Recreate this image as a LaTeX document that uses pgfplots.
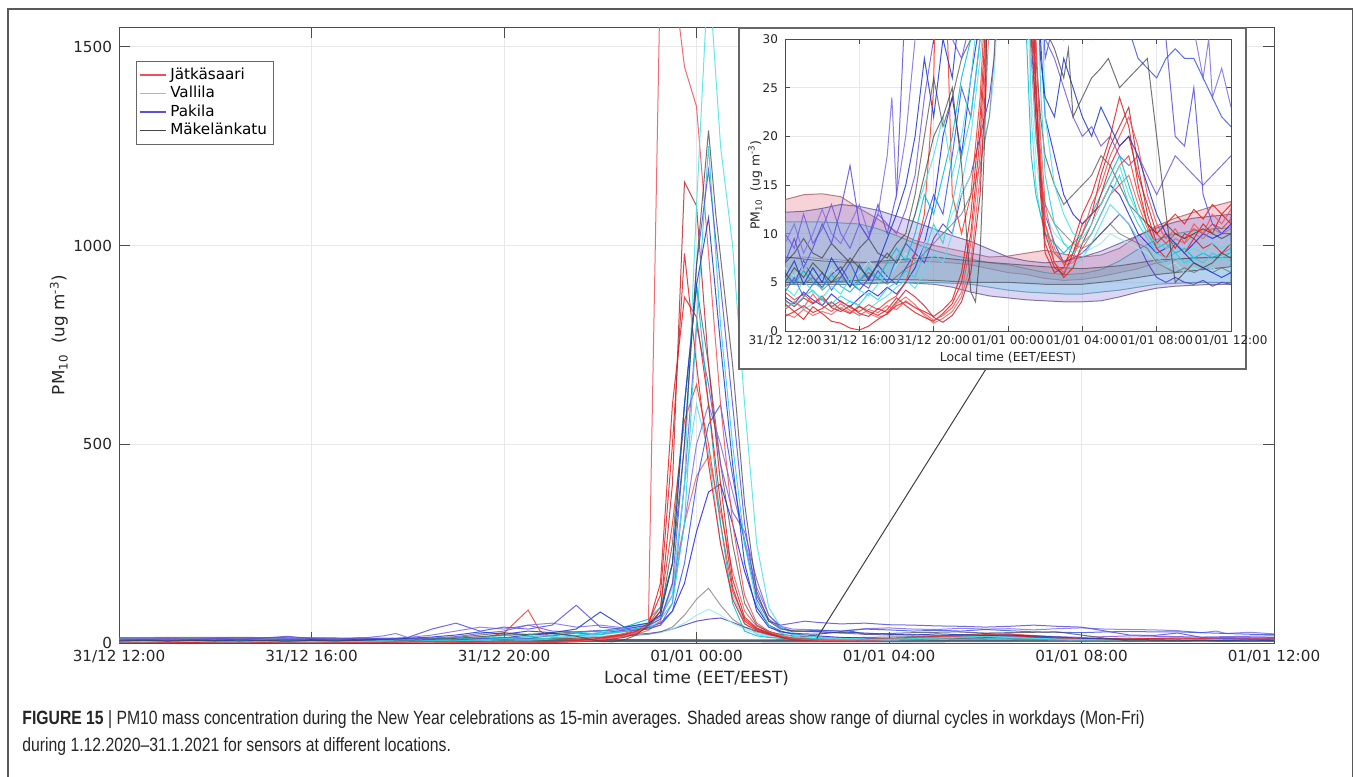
\documentclass[border=0pt]{standalone}
\usepackage{fontspec}
\setmainfont{DejaVu Sans}
\newfontfamily\capfont[FakeStretch=0.82]{Liberation Sans}
\usepackage{pgfplots}
\usepackage{pgfplotstable}
\pgfplotsset{compat=1.18}

\definecolor{txt}{RGB}{38,38,38}
\definecolor{Rpink}{RGB}{240,80,90}
\definecolor{Rred}{RGB}{230,30,30}
\definecolor{Rdark}{RGB}{190,40,50}
\definecolor{Rora}{RGB}{245,60,40}
\definecolor{Rlight}{RGB}{235,100,100}
\definecolor{Ca}{RGB}{70,230,230}
\definecolor{Cb}{RGB}{40,210,220}
\definecolor{Cc}{RGB}{0,190,210}
\definecolor{Cd}{RGB}{90,220,240}
\definecolor{Ce}{RGB}{150,235,235}
\definecolor{Pa}{RGB}{90,80,220}
\definecolor{Pb}{RGB}{40,40,230}
\definecolor{Pc}{RGB}{120,90,220}
\definecolor{Pd}{RGB}{60,90,230}
\definecolor{Pe}{RGB}{80,60,200}
\definecolor{Pf}{RGB}{30,60,200}
\definecolor{Pg}{RGB}{130,110,230}
\definecolor{Ka}{RGB}{40,40,40}
\definecolor{Kb}{RGB}{70,70,70}
\definecolor{Kc}{RGB}{95,95,95}
\definecolor{bandR}{RGB}{225,110,130}
\definecolor{bandP}{RGB}{140,120,220}
\definecolor{bandC}{RGB}{100,200,235}
\definecolor{bandK}{RGB}{130,130,150}

% hours after 31/12 12:00, PM10 in ug/m3
\pgfplotstableread[row sep=\\]{x y\\
0 2.2\\ 0.5 3.0\\ 1 2.4\\ 1.5 3.8\\ 2 2.6\\ 2.5 2.0\\ 3 2.8\\ 3.5 2.1\\ 4 1.6\\ 4.5 2.2\\ 5 1.9\\ 5.5 2.6\\ 6 2.2\\ 6.5 3.1\\ 7 2.4\\ 7.5 1.8\\ 8 1.1\\ 8.5 1.6\\ 9 2.4\\ 9.5 4\\ 10 9\\ 10.5 18\\ 10.75 26\\ 11 45\\ 11.25 1700\\ 11.5 1700\\ 11.75 1450\\ 12 1350\\ 12.25 980\\ 12.5 600\\ 12.75 300\\ 13 120\\ 13.25 50\\ 13.5 30\\ 13.75 18\\ 14 11\\ 14.5 7\\ 15 6\\ 15.5 7.5\\ 16 10\\ 16.5 13\\ 17 15\\ 17.5 18\\ 18 20\\ 18.5 22\\ 19 19\\ 19.5 14\\ 20 11\\ 20.5 9.5\\ 21 10.5\\ 21.5 9\\ 22 11\\ 22.5 10\\ 23 12\\ 23.5 11\\ 24 12.5\\
}\Ra
\pgfplotstableread[row sep=\\]{x y\\
0 3.2\\ 0.5 2.5\\ 1 3.4\\ 1.5 2.8\\ 2 3.6\\ 2.5 2.4\\ 3 2.0\\ 3.5 2.6\\ 4 1.8\\ 4.5 1.5\\ 5 2.3\\ 5.5 1.9\\ 6 3.0\\ 6.5 4.2\\ 7 3.5\\ 7.5 2.6\\ 8 1.4\\ 8.5 0.9\\ 9 1.6\\ 9.5 3\\ 10 6\\ 10.5 14\\ 10.75 24\\ 11 40\\ 11.25 80\\ 11.5 400\\ 11.75 1160\\ 12 1100\\ 12.25 700\\ 12.5 400\\ 12.75 160\\ 13 65\\ 13.25 38\\ 13.5 26\\ 13.75 15\\ 14 9\\ 14.5 6.5\\ 15 5.8\\ 15.5 8\\ 16 11\\ 16.5 12\\ 17 16\\ 17.5 19\\ 18 21\\ 18.5 23\\ 19 17\\ 19.5 12\\ 20 9\\ 20.5 10\\ 21 8.5\\ 21.5 10\\ 22 9.5\\ 22.5 11\\ 23 10\\ 23.5 12\\ 24 11\\
}\Rb
\pgfplotstableread[row sep=\\]{x y\\
0 1.5\\ 0.5 2.0\\ 1 1.2\\ 1.5 2.5\\ 2 1.8\\ 2.5 1.0\\ 3 0.8\\ 3.5 0.3\\ 4 0.1\\ 4.5 0.5\\ 5 1.2\\ 5.5 1.8\\ 6 2.6\\ 6.5 3.0\\ 7 2.4\\ 7.5 2.0\\ 8 1.5\\ 8.5 2.2\\ 9 3.2\\ 9.5 6\\ 10 12\\ 10.5 22\\ 10.75 30\\ 11 50\\ 11.25 120\\ 11.5 500\\ 11.75 980\\ 12 700\\ 12.25 450\\ 12.5 250\\ 12.75 110\\ 13 48\\ 13.25 32\\ 13.5 22\\ 13.75 14\\ 14 8\\ 14.5 6\\ 15 6.5\\ 15.5 9\\ 16 12\\ 16.5 14\\ 17 17\\ 17.5 20\\ 18 24\\ 18.5 21\\ 19 15\\ 19.5 11\\ 20 8.5\\ 20.5 7.5\\ 21 9\\ 21.5 8\\ 22 9.5\\ 22.5 8.5\\ 23 9\\ 23.5 8\\ 24 9\\
}\Rc
\pgfplotstableread[row sep=\\]{x y\\
0 2.8\\ 0.5 2.0\\ 1 2.6\\ 1.5 1.9\\ 2 2.3\\ 2.5 3.0\\ 3 2.2\\ 3.5 1.8\\ 4 2.5\\ 4.5 2.0\\ 5 1.6\\ 5.5 2.2\\ 6 3.4\\ 6.5 2.6\\ 7 1.9\\ 7.5 1.4\\ 8 1.0\\ 8.5 1.8\\ 9 2.8\\ 9.5 5\\ 10 10\\ 10.5 20\\ 10.75 28\\ 11 45\\ 11.25 150\\ 11.5 600\\ 11.75 870\\ 12 820\\ 12.25 600\\ 12.5 350\\ 12.75 140\\ 13 55\\ 13.25 34\\ 13.5 24\\ 13.75 16\\ 14 10\\ 14.5 7\\ 15 5.5\\ 15.5 6.5\\ 16 9\\ 16.5 11\\ 17 14\\ 17.5 17\\ 18 19\\ 18.5 20\\ 19 16\\ 19.5 13\\ 20 10\\ 20.5 11\\ 21 12\\ 21.5 11\\ 22 12.5\\ 22.5 11.5\\ 23 13\\ 23.5 12\\ 24 13\\
}\Rd
\pgfplotstableread[row sep=\\]{x y\\
0 4.0\\ 0.5 3.2\\ 1 3.8\\ 1.5 2.9\\ 2 3.3\\ 2.5 2.5\\ 3 3.1\\ 3.5 2.4\\ 4 2.0\\ 4.5 2.7\\ 5 2.2\\ 5.5 3.0\\ 6 3.6\\ 6.5 5\\ 7 8\\ 7.5 12\\ 8 25\\ 8.5 83\\ 8.75 30\\ 9 14\\ 9.5 10\\ 10 14\\ 10.5 24\\ 10.75 33\\ 11 48\\ 11.25 90\\ 11.5 300\\ 11.75 560\\ 12 650\\ 12.25 500\\ 12.5 300\\ 12.75 130\\ 13 60\\ 13.25 36\\ 13.5 25\\ 13.75 17\\ 14 11\\ 14.5 8\\ 15 7\\ 15.5 8\\ 16 10\\ 16.5 12\\ 17 13\\ 17.5 15\\ 18 17\\ 18.5 18\\ 19 14\\ 19.5 11\\ 20 10\\ 20.5 9\\ 21 10\\ 21.5 9.5\\ 22 10.5\\ 22.5 10\\ 23 11\\ 23.5 10.5\\ 24 11.5\\
}\Re
\pgfplotstableread[row sep=\\]{x y\\
0 1.8\\ 0.5 1.4\\ 1 2.2\\ 1.5 1.6\\ 2 2.0\\ 2.5 1.7\\ 3 2.4\\ 3.5 1.9\\ 4 2.6\\ 4.5 1.8\\ 5 1.4\\ 5.5 1.7\\ 6 2.8\\ 6.5 3.5\\ 7 2.7\\ 7.5 1.6\\ 8 0.8\\ 8.5 1.3\\ 9 2.0\\ 9.5 3.5\\ 10 7\\ 10.5 16\\ 10.75 22\\ 11 32\\ 11.25 55\\ 11.5 150\\ 11.75 300\\ 12 420\\ 12.25 470\\ 12.5 330\\ 12.75 180\\ 13 80\\ 13.25 42\\ 13.5 30\\ 13.75 20\\ 14 13\\ 14.5 8.5\\ 15 6.8\\ 15.5 7\\ 16 8.5\\ 16.5 10\\ 17 12\\ 17.5 14\\ 18 15\\ 18.5 16\\ 19 13\\ 19.5 10.5\\ 20 9\\ 20.5 8.5\\ 21 9.5\\ 21.5 9\\ 22 10\\ 22.5 9.5\\ 23 10.5\\ 23.5 10\\ 24 10.5\\
}\Rf
\pgfplotstableread[row sep=\\]{x y\\
0 4.5\\ 0.5 3.6\\ 1 5.2\\ 1.5 4.0\\ 2 3.4\\ 2.5 4.6\\ 3 3.8\\ 3.5 5.5\\ 4 4.2\\ 4.5 3.6\\ 5 4.8\\ 5.5 6.0\\ 6 7.5\\ 6.5 9\\ 7 12\\ 7.5 15\\ 8 18\\ 8.5 22\\ 9 16\\ 9.5 20\\ 10 26\\ 10.5 35\\ 11 50\\ 11.25 70\\ 11.5 120\\ 11.75 400\\ 12 1100\\ 12.25 1700\\ 12.5 1250\\ 12.75 1000\\ 13 600\\ 13.25 250\\ 13.5 90\\ 13.75 40\\ 14 22\\ 14.5 15\\ 15 12\\ 15.5 10\\ 16 9.5\\ 16.5 11\\ 17 13\\ 17.5 15\\ 18 17\\ 18.5 14\\ 19 12\\ 19.5 10\\ 20 9\\ 20.5 8.5\\ 21 9\\ 21.5 8\\ 22 8.5\\ 22.5 8\\ 23 9\\ 23.5 8.5\\ 24 9\\
}\Cta
\pgfplotstableread[row sep=\\]{x y\\
0 3.0\\ 0.5 2.6\\ 1 3.5\\ 1.5 4.2\\ 2 3.1\\ 2.5 2.8\\ 3 3.6\\ 3.5 3.0\\ 4 2.7\\ 4.5 3.9\\ 5 3.2\\ 5.5 4.4\\ 6 5.0\\ 6.5 6.2\\ 7 5.5\\ 7.5 8\\ 8 11\\ 8.5 9\\ 9 13\\ 9.5 18\\ 10 22\\ 10.5 30\\ 11 42\\ 11.25 60\\ 11.5 100\\ 11.75 300\\ 12 800\\ 12.25 1250\\ 12.5 800\\ 12.75 500\\ 13 250\\ 13.25 100\\ 13.5 45\\ 13.75 25\\ 14 16\\ 14.5 11\\ 15 9\\ 15.5 8\\ 16 9\\ 16.5 10\\ 17 12\\ 17.5 14\\ 18 16\\ 18.5 13\\ 19 11\\ 19.5 9.5\\ 20 8\\ 20.5 7.5\\ 21 8\\ 21.5 7\\ 22 7.5\\ 22.5 7\\ 23 8\\ 23.5 7.5\\ 24 8\\
}\Ctb
\pgfplotstableread[row sep=\\]{x y\\
0 5.5\\ 0.5 4.8\\ 1 6.2\\ 1.5 5.0\\ 2 4.4\\ 2.5 5.8\\ 3 4.6\\ 3.5 4.0\\ 4 5.1\\ 4.5 6.5\\ 5 5.4\\ 5.5 7.0\\ 6 8.5\\ 6.5 7.2\\ 7 10\\ 7.5 14\\ 8 12\\ 8.5 16\\ 9 20\\ 9.5 26\\ 10 30\\ 10.5 40\\ 11 60\\ 11.25 90\\ 11.5 200\\ 11.75 600\\ 12 900\\ 12.25 600\\ 12.5 300\\ 12.75 100\\ 13 30\\ 13.25 18\\ 13.5 14\\ 13.75 12\\ 14 10\\ 14.5 9\\ 15 8\\ 15.5 9\\ 16 10\\ 16.5 12\\ 17 14\\ 17.5 16\\ 18 18\\ 18.5 15\\ 19 12\\ 19.5 10\\ 20 8.5\\ 20.5 9\\ 21 8\\ 21.5 8.5\\ 22 7.5\\ 22.5 8\\ 23 7.5\\ 23.5 8\\ 24 8.5\\
}\Ctc
\pgfplotstableread[row sep=\\]{x y\\
0 2.4\\ 0.5 3.0\\ 1 2.2\\ 1.5 2.8\\ 2 3.4\\ 2.5 2.6\\ 3 2.3\\ 3.5 3.1\\ 4 2.5\\ 4.5 2.2\\ 5 3.0\\ 5.5 3.6\\ 6 4.5\\ 6.5 5.2\\ 7 4.4\\ 7.5 6\\ 8 8\\ 8.5 7\\ 9 10\\ 9.5 15\\ 10 20\\ 10.5 28\\ 11 38\\ 11.25 55\\ 11.5 140\\ 11.75 400\\ 12 600\\ 12.25 480\\ 12.5 250\\ 12.75 120\\ 13 50\\ 13.25 22\\ 13.5 15\\ 13.75 12\\ 14 10\\ 14.5 8\\ 15 7\\ 15.5 6.5\\ 16 7.5\\ 16.5 9\\ 17 11\\ 17.5 13\\ 18 12\\ 18.5 11\\ 19 9.5\\ 19.5 8.5\\ 20 7.5\\ 20.5 7\\ 21 7.5\\ 21.5 7\\ 22 7\\ 22.5 6.5\\ 23 7\\ 23.5 7.5\\ 24 7\\
}\Ctd
\pgfplotstableread[row sep=\\]{x y\\
0 6.5\\ 0.5 5.6\\ 1 7.0\\ 1.5 6.0\\ 2 5.2\\ 2.5 6.4\\ 3 5.5\\ 3.5 4.8\\ 4 6.0\\ 4.5 7.2\\ 5 6.2\\ 5.5 5.4\\ 6 6.8\\ 6.5 8\\ 7 7\\ 7.5 9\\ 8 10.5\\ 8.5 9.5\\ 9 12\\ 9.5 14\\ 10 16\\ 10.5 18\\ 11 22\\ 11.25 26\\ 11.5 35\\ 11.75 50\\ 12 70\\ 12.25 85\\ 12.5 70\\ 12.75 50\\ 13 35\\ 13.25 24\\ 13.5 18\\ 13.75 14\\ 14 12\\ 14.5 10\\ 15 9\\ 15.5 8.5\\ 16 8\\ 16.5 8.5\\ 17 9\\ 17.5 10\\ 18 9.5\\ 18.5 9\\ 19 8.5\\ 19.5 8\\ 20 7\\ 20.5 6.5\\ 21 7\\ 21.5 6\\ 22 6.5\\ 22.5 6\\ 23 6.5\\ 23.5 6\\ 24 6.5\\
}\Cte
\pgfplotstableread[row sep=\\]{x y\\
0 7.0\\ 0.5 9.5\\ 1 6.5\\ 1.5 8.5\\ 2 11\\ 2.5 9\\ 3 12.5\\ 3.5 17\\ 4 11\\ 4.5 9.5\\ 5 13\\ 5.5 10\\ 6 14\\ 6.5 35\\ 7 50\\ 7.5 30\\ 8 40\\ 8.5 35\\ 9 45\\ 9.5 95\\ 10 40\\ 10.5 35\\ 11 45\\ 11.25 60\\ 11.5 150\\ 11.75 500\\ 12 950\\ 12.25 1190\\ 12.5 900\\ 12.75 600\\ 13 300\\ 13.25 110\\ 13.5 55\\ 13.75 45\\ 14 50\\ 14.25 55\\ 14.5 52\\ 15 48\\ 15.5 50\\ 16 46\\ 16.5 45\\ 17 43\\ 17.5 42\\ 18 40\\ 18.5 42\\ 19 45\\ 19.5 42\\ 20 40\\ 20.5 30\\ 21 20\\ 21.5 19\\ 22 25\\ 22.5 14\\ 23 11\\ 23.5 10\\ 24 10\\
}\Pta
\pgfplotstableread[row sep=\\]{x y\\
0 5.5\\ 0.5 7.2\\ 1 4.8\\ 1.5 6.5\\ 2 5.0\\ 2.5 7.5\\ 3 6.0\\ 3.5 4.5\\ 4 6.8\\ 4.5 5.2\\ 5 7.0\\ 5.5 9.5\\ 6 12\\ 6.5 15\\ 7 20\\ 7.5 28\\ 8 22\\ 8.5 30\\ 9 26\\ 9.5 35\\ 10 78\\ 10.5 40\\ 11 50\\ 11.25 70\\ 11.5 200\\ 11.75 600\\ 12 900\\ 12.25 1070\\ 12.5 750\\ 12.75 450\\ 13 200\\ 13.25 80\\ 13.5 40\\ 13.75 28\\ 14 24\\ 14.5 22\\ 15 28\\ 15.5 25\\ 16 22\\ 16.5 20\\ 17 23\\ 17.5 21\\ 18 19\\ 18.5 20\\ 19 18\\ 19.5 15\\ 20 12\\ 20.5 10\\ 21 9\\ 21.5 8\\ 22 7\\ 22.5 6.5\\ 23 6\\ 23.5 5.5\\ 24 6\\
}\Ptb
\pgfplotstableread[row sep=\\]{x y\\
0 10\\ 0.5 8.5\\ 1 12\\ 1.5 9\\ 2 10.5\\ 2.5 13\\ 3 10\\ 3.5 8.5\\ 4 11\\ 4.5 9.5\\ 5 12\\ 5.5 11\\ 6 10\\ 6.5 12.5\\ 7 16\\ 7.5 24\\ 8 30\\ 8.5 45\\ 9 30\\ 9.5 28\\ 10 32\\ 10.5 30\\ 11 38\\ 11.25 45\\ 11.5 100\\ 11.75 400\\ 12 800\\ 12.25 650\\ 12.5 450\\ 12.75 330\\ 13 280\\ 13.25 160\\ 13.5 70\\ 13.75 40\\ 14 30\\ 14.5 28\\ 15 25\\ 15.5 22\\ 16 20\\ 16.5 21\\ 17 19\\ 17.5 20\\ 18 18\\ 18.5 17\\ 19 18\\ 19.5 16\\ 20 14\\ 20.5 16\\ 21 18\\ 21.5 17\\ 22 16\\ 22.5 15\\ 23 16\\ 23.5 17\\ 24 18\\
}\Ptc
\pgfplotstableread[row sep=\\]{x y\\
0 4.0\\ 0.5 5.5\\ 1 3.5\\ 1.5 4.8\\ 2 6.0\\ 2.5 4.2\\ 3 5.5\\ 3.5 7.0\\ 4 5.0\\ 4.5 4.4\\ 5 6.2\\ 5.5 5.0\\ 6 7.5\\ 6.5 9\\ 7 8\\ 7.5 11\\ 8 14\\ 8.5 12\\ 9 18\\ 9.5 25\\ 10 22\\ 10.5 30\\ 11 35\\ 11.25 45\\ 11.5 80\\ 11.75 200\\ 12 400\\ 12.25 550\\ 12.5 600\\ 12.75 420\\ 13 250\\ 13.25 120\\ 13.5 60\\ 13.75 38\\ 14 28\\ 14.5 32\\ 15 30\\ 15.5 35\\ 16 33\\ 16.5 30\\ 17 32\\ 17.5 30\\ 18 34\\ 18.5 31\\ 19 28\\ 19.5 27\\ 20 26\\ 20.5 28\\ 21 29\\ 21.5 28\\ 22 28\\ 22.5 26\\ 23 24\\ 23.5 22\\ 24 21\\
}\Ptd
\pgfplotstableread[row sep=\\]{x y\\
0 6.0\\ 0.5 4.8\\ 1 7.2\\ 1.5 5.5\\ 2 4.5\\ 2.5 5.8\\ 3 6.6\\ 3.5 5.0\\ 4 4.2\\ 4.5 5.4\\ 5 6.8\\ 5.5 5.6\\ 6 4.8\\ 6.5 6.5\\ 7 8\\ 7.5 7\\ 8 9.5\\ 8.5 11\\ 9 10\\ 9.5 14\\ 10 16\\ 10.5 20\\ 11 24\\ 11.25 28\\ 11.5 35\\ 11.75 45\\ 12 55\\ 12.25 60\\ 12.5 63\\ 12.75 52\\ 13 40\\ 13.25 30\\ 13.5 22\\ 13.75 16\\ 14 12\\ 14.5 9\\ 15 7\\ 15.5 7.5\\ 16 8\\ 16.5 9\\ 17 10\\ 17.5 11\\ 18 12\\ 18.5 11\\ 19 9\\ 19.5 7\\ 20 5.5\\ 20.5 5\\ 21 5.5\\ 21.5 5\\ 22 4.8\\ 22.5 5.2\\ 23 4.6\\ 23.5 5\\ 24 4.8\\
}\Pte
\pgfplotstableread[row sep=\\]{x y\\
0 3.5\\ 0.5 2.8\\ 1 4.0\\ 1.5 3.2\\ 2 2.6\\ 2.5 3.8\\ 3 3.0\\ 3.5 2.5\\ 4 3.4\\ 4.5 4.2\\ 5 3.6\\ 5.5 4.5\\ 6 3.8\\ 6.5 5\\ 7 6.5\\ 7.5 9\\ 8 13\\ 8.5 20\\ 9 24\\ 9.5 18\\ 10 26\\ 10.5 32\\ 11 40\\ 11.25 50\\ 11.5 80\\ 11.75 150\\ 12 280\\ 12.25 380\\ 12.5 400\\ 12.75 300\\ 13 180\\ 13.25 90\\ 13.5 45\\ 13.75 30\\ 14 22\\ 14.5 18\\ 15 14\\ 15.5 12\\ 16 11\\ 16.5 12\\ 17 13\\ 17.5 15\\ 18 14\\ 18.5 12\\ 19 10\\ 19.5 9\\ 20 8\\ 20.5 8.5\\ 21 9\\ 21.5 8\\ 22 9\\ 22.5 10\\ 23 9.5\\ 23.5 10\\ 24 11\\
}\Ptf
\pgfplotstableread[row sep=\\]{x y\\
0 9\\ 0.5 11\\ 1 8\\ 1.5 10\\ 2 12.5\\ 2.5 10\\ 3 9\\ 3.5 11\\ 4 13\\ 4.5 10\\ 5 12\\ 5.5 18\\ 5.75 24\\ 6 14\\ 6.5 20\\ 7 30\\ 7.5 40\\ 8 35\\ 8.5 45\\ 9 50\\ 9.5 40\\ 10 45\\ 10.5 38\\ 11 50\\ 11.25 65\\ 11.5 120\\ 11.75 300\\ 12 500\\ 12.25 600\\ 12.5 500\\ 12.75 380\\ 13 260\\ 13.25 140\\ 13.5 70\\ 13.75 42\\ 14 35\\ 14.5 33\\ 15 30\\ 15.5 36\\ 16 38\\ 16.5 35\\ 17 34\\ 17.5 37\\ 18 35\\ 18.5 36\\ 19 33\\ 19.5 36\\ 20 38\\ 20.5 35\\ 21 34\\ 21.5 33\\ 22 31\\ 22.5 26\\ 22.8 30\\ 23 24\\ 23.5 27\\ 24 23\\
}\Ptg
\pgfplotstableread[row sep=\\]{x y\\
0 5\\ 0.5 6.5\\ 1 5.5\\ 1.5 7\\ 2 6\\ 2.5 5\\ 3 6.2\\ 3.5 7.5\\ 4 6.5\\ 4.5 5.5\\ 5 6.8\\ 5.5 8\\ 6 7\\ 6.5 9\\ 7 12\\ 7.5 16\\ 8 20\\ 8.5 22\\ 9 25\\ 9.5 17\\ 10 4\\ 10.25 3\\ 10.5 8\\ 10.75 20\\ 11 45\\ 11.25 80\\ 11.5 200\\ 11.75 500\\ 12 950\\ 12.25 1290\\ 12.4 1080\\ 12.75 700\\ 13 350\\ 13.25 130\\ 13.5 55\\ 13.75 35\\ 14 31\\ 14.5 29\\ 15 26\\ 15.25 29\\ 15.5 22\\ 16 24\\ 16.5 26\\ 17 27\\ 17.4 28\\ 18 25\\ 18.5 26\\ 19 27\\ 19.5 28\\ 20 20\\ 20.5 12\\ 21 5\\ 21.5 6\\ 22 7\\ 22.5 6.5\\ 23 7\\ 23.5 8\\ 24 7.5\\
}\Kta
\pgfplotstableread[row sep=\\]{x y\\
0 4.5\\ 0.5 5.2\\ 1 4.8\\ 1.5 5.5\\ 2 4.2\\ 2.5 5.0\\ 3 5.6\\ 3.5 4.6\\ 4 5.2\\ 4.5 6.0\\ 5 5.4\\ 5.5 4.8\\ 6 5.6\\ 6.5 6.4\\ 7 7\\ 7.5 8\\ 8 9\\ 8.5 10\\ 9 11\\ 9.5 12\\ 10 14\\ 10.5 17\\ 11 22\\ 11.25 28\\ 11.5 40\\ 11.75 70\\ 12 110\\ 12.25 138\\ 12.5 95\\ 12.75 60\\ 13 40\\ 13.25 28\\ 13.5 20\\ 13.75 16\\ 14 13\\ 14.5 11\\ 15 10\\ 15.5 9\\ 16 8.5\\ 16.5 9\\ 17 10\\ 17.5 11\\ 18 10\\ 18.5 9.5\\ 19 9\\ 19.5 8.5\\ 20 7\\ 20.5 6.5\\ 21 6\\ 21.5 6.5\\ 22 6\\ 22.5 6.5\\ 23 6\\ 23.5 6.5\\ 24 6\\
}\Ktb
\pgfplotstableread[row sep=\\]{x y\\
0 7\\ 0.5 8\\ 1 9.5\\ 1.5 8\\ 2 7.5\\ 2.5 9\\ 3 8\\ 3.5 7\\ 4 8.5\\ 4.5 9.5\\ 5 8\\ 5.5 7.5\\ 6 9\\ 6.5 10\\ 7 14\\ 7.5 20\\ 8 26\\ 8.5 21\\ 9 24\\ 9.5 28\\ 10 30\\ 10.5 35\\ 11 45\\ 11.25 70\\ 11.5 250\\ 11.75 600\\ 12 900\\ 12.25 700\\ 12.5 450\\ 12.75 250\\ 13 100\\ 13.25 45\\ 13.5 28\\ 13.75 22\\ 14 18\\ 14.5 15\\ 15 13\\ 15.5 14\\ 16 15\\ 16.5 16\\ 17 18\\ 17.5 17\\ 18 15\\ 18.5 13\\ 19 12\\ 19.5 11\\ 20 10\\ 20.5 11\\ 21 10\\ 21.5 9.5\\ 22 10\\ 22.5 10.5\\ 23 10\\ 23.5 9.5\\ 24 10\\
}\Ktc
% shaded ranges of the workday diurnal cycles (upper edge, then lower edge backwards)
\pgfplotstableread[row sep=\\]{x y\\
0 13.5\\ 1 14.0\\ 2 14.1\\ 3 13.8\\ 4 12.6\\ 5 11.5\\ 6 10.2\\ 7 9.3\\ 8 8.8\\ 9 8.4\\ 10 8.0\\ 11 7.6\\ 12 7.7\\ 13 8.0\\ 14 8.3\\ 15 7.9\\ 16 7.6\\ 17 7.8\\ 18 8.5\\ 19 9.8\\ 20 10.8\\ 21 11.6\\ 22 12.2\\ 23 12.8\\ 24 13.3\\
24 8.0\\ 23 7.6\\ 22 7.5\\ 21 7.3\\ 20 7.0\\ 19 6.4\\ 18 6.0\\ 17 5.6\\ 16 5.3\\ 15 5.2\\ 14 5.4\\ 13 5.8\\ 12 6.0\\ 11 6.4\\ 10 6.8\\ 9 7.0\\ 8 7.1\\ 7 7.2\\ 6 7.0\\ 5 7.0\\ 4 7.1\\ 3 7.3\\ 2 7.4\\ 1 7.6\\ 0 7.5\\
}\BandR
\pgfplotstableread[row sep=\\]{x y\\
0 12.2\\ 1 12.3\\ 2 12.6\\ 3 13.0\\ 4 12.8\\ 5 12.4\\ 6 11.8\\ 7 11.2\\ 8 10.5\\ 9 9.8\\ 10 9.2\\ 11 8.4\\ 12 7.6\\ 13 7.2\\ 14 7.0\\ 15 7.2\\ 16 7.6\\ 17 8.2\\ 18 9.0\\ 19 9.8\\ 20 10.6\\ 21 11.2\\ 22 11.6\\ 23 11.8\\ 24 12.0\\
24 4.8\\ 23 4.8\\ 22 4.7\\ 21 4.6\\ 20 4.4\\ 19 4.0\\ 18 3.5\\ 17 3.1\\ 16 3.0\\ 15 3.0\\ 14 3.1\\ 13 3.2\\ 12 3.4\\ 11 3.6\\ 10 4.0\\ 9 4.5\\ 8 4.8\\ 7 4.9\\ 6 5.0\\ 5 4.9\\ 4 4.8\\ 3 4.8\\ 2 4.8\\ 1 4.8\\ 0 4.8\\
}\BandP
\pgfplotstableread[row sep=\\]{x y\\
0 11.2\\ 2 11.2\\ 4 11.0\\ 5 10.5\\ 6 9.8\\ 7 9.0\\ 8 8.3\\ 9 7.8\\ 10 7.4\\ 11 7.0\\ 12 6.8\\ 13 6.4\\ 14 6.0\\ 15 5.8\\ 16 5.9\\ 17 6.3\\ 18 7.2\\ 19 8.4\\ 20 9.4\\ 21 10.0\\ 22 10.3\\ 23 10.5\\ 24 10.6\\
24 5.0\\ 22 5.0\\ 20 4.8\\ 19 4.5\\ 18 4.2\\ 17 4.0\\ 16 3.8\\ 15 3.8\\ 14 3.9\\ 13 4.0\\ 12 4.2\\ 11 4.5\\ 10 4.8\\ 8 5.0\\ 6 5.0\\ 4 5.0\\ 2 5.0\\ 0 5.0\\
}\BandC
\pgfplotstableread[row sep=\\]{x y\\
0 7.6\\ 2 7.2\\ 4 7.0\\ 6 7.3\\ 8 7.6\\ 10 7.2\\ 12 6.9\\ 14 6.6\\ 16 6.4\\ 18 6.7\\ 20 7.3\\ 22 7.5\\ 24 7.6\\
24 6.6\\ 22 6.2\\ 20 5.8\\ 18 5.2\\ 16 4.8\\ 14 4.8\\ 12 5.0\\ 10 5.0\\ 8 5.2\\ 6 5.3\\ 4 5.2\\ 2 5.0\\ 0 5.0\\
}\BandK

\pgfplotsset{
  ser/.style={line width=0.5pt, draw opacity=0.85, forget plot},
  band/.style={fill opacity=0.3, draw opacity=0.7, line width=0.5pt, forget plot},
  chart/.style={
    scale only axis, xmin=0, xmax=24, ymin=0,
    xtick={0,4,...,24},
    xticklabels={31/12 12:00,31/12 16:00,31/12 20:00,01/01 00:00,01/01 04:00,01/01 08:00,01/01 12:00},
    grid=major, major grid style={gray!18, line width=0.4pt},
    axis line style={black!70, line width=0.5pt},
    tick align=inside, tick pos=both,
    major tick style={black!70, line width=0.5pt},
    tick label style={text=txt},
    label style={text=txt},
    /pgf/number format/assume math mode=true,
    /pgf/number format/1000 sep={},
    axis background/.style={fill=white},
  },
}

\newcommand\plotall{%
  \addplot[band, fill=bandR, draw=bandR!70!black] table {\BandR};
  \addplot[band, fill=bandP, draw=bandP!60!black] table {\BandP};
  \addplot[band, fill=bandC, draw=bandC!70!black] table {\BandC};
  \addplot[band, fill=bandK, draw=bandK!60!black] table {\BandK};
  \addplot[ser, Pb] table {\Ptf};
  \addplot[ser, Pe] table {\Pte};
  \addplot[ser, Ce] table {\Cte};
  \addplot[ser, Cd] table {\Ctd};
  \addplot[ser, Rlight] table {\Rf};
  \addplot[ser, Rora] table {\Re};
  \addplot[ser, Ka, draw opacity=0.6] table {\Ktc};
  \addplot[ser, Kc, draw opacity=0.6] table {\Ktb};
  \addplot[ser, Pg] table {\Ptg};
  \addplot[ser, Pd] table {\Ptd};
  \addplot[ser, Pc] table {\Ptc};
  \addplot[ser, Cc] table {\Ctc};
  \addplot[ser, Rred] table {\Rd};
  \addplot[ser, Rred] table {\Rc};
  \addplot[ser, Rdark] table {\Rb};
  \addplot[ser, Rpink] table {\Ra};
  \addplot[ser, Cb] table {\Ctb};
  \addplot[ser, Ca] table {\Cta};
  \addplot[ser, Pf] table {\Ptb};
  \addplot[ser, Pa] table {\Pta};
  \addplot[ser, Kb, draw opacity=0.75] table {\Kta};
}

\begin{document}
\begin{tikzpicture}
\useasboundingbox (0,0) rectangle (678pt,-388.5pt);
\fill[white] (0,0) rectangle (678pt,-388.5pt);
\draw[black!65, line width=0.6pt] (4pt,-4.5pt) rectangle (676.2pt,-389pt);

\begin{axis}[chart,
  at={(59.5pt,-321.5pt)}, anchor=south west,
  width=577.5pt, height=308pt, ymax=1550,
  ytick={0,500,1000,1500},
  major tick length=5.5pt,
  tick label style={font=\fontsize{7.6}{9}\selectfont},
  label style={font=\fontsize{8.4}{10}\selectfont},
  xlabel={Local time (EET/EEST)},
  ylabel={PM\textsubscript{10}\ \ (ug m\textsuperscript{-3})},
  xlabel style={at={(axis description cs:0.5,-0.057)}, anchor=center},
  ylabel style={at={(axis description cs:-0.052,0.5)}, anchor=center},
  legend style={at={(0.0147,0.945)}, anchor=north west, draw=black!60,
    fill=white, font=\fontsize{7.6}{9}\selectfont, inner sep=1.2pt,
    row sep=-2pt, cells={anchor=west}},
  legend image code/.code={\draw[#1] (0pt,0pt) -- (13pt,0pt);},
]
\plotall
\addlegendimage{draw=Rpink, line width=0.75pt}\addlegendentry{Jätkäsaari}
\addlegendimage{draw=Ca, line width=0.75pt}\addlegendentry{Vallila}
\addlegendimage{draw=Pa, line width=0.75pt}\addlegendentry{Pakila}
\addlegendimage{draw=Kb, line width=0.75pt}\addlegendentry{Mäkelänkatu}
\coordinate (zoompt) at (axis cs:14.5,12);
\end{axis}

\draw[black!75, line width=0.5pt] (zoompt) -- (493pt,-184.5pt);
\draw[black!60, fill=white, line width=0.6pt] (369.5pt,-14pt) rectangle (623pt,-184.5pt);

\begin{axis}[chart,
  at={(392.5pt,-165.5pt)}, anchor=south west,
  width=223pt, height=146pt, ymax=30,
  ytick={0,5,...,30},
  major tick length=2.5pt,
  tick label style={font=\fontsize{6.0}{7.2}\selectfont},
  label style={font=\fontsize{6.2}{7.5}\selectfont},
  xticklabel style={yshift=1pt},
  xlabel={Local time (EET/EEST)},
  ylabel={PM\textsubscript{10}\ \ (ug m\textsuperscript{-3})},
  xlabel style={at={(axis description cs:0.5,-0.092)}, anchor=center},
  ylabel style={at={(axis description cs:-0.067,0.5)}, anchor=center},
]
\plotall
\end{axis}

\node[anchor=base west, inner sep=0, font=\capfont\fontsize{9.6}{11}\selectfont, text=black!85]
  at (11pt,-362pt) {\textbf{FIGURE 15} | PM10 mass concentration during the New Year celebrations as 15-min averages. Shaded areas show range of diurnal cycles in workdays (Mon-Fri)};
\node[anchor=base west, inner sep=0, font=\capfont\fontsize{9.6}{11}\selectfont, text=black!85]
  at (11pt,-375.5pt) {during 1.12.2020–31.1.2021 for sensors at different locations.};
\end{tikzpicture}
\end{document}
